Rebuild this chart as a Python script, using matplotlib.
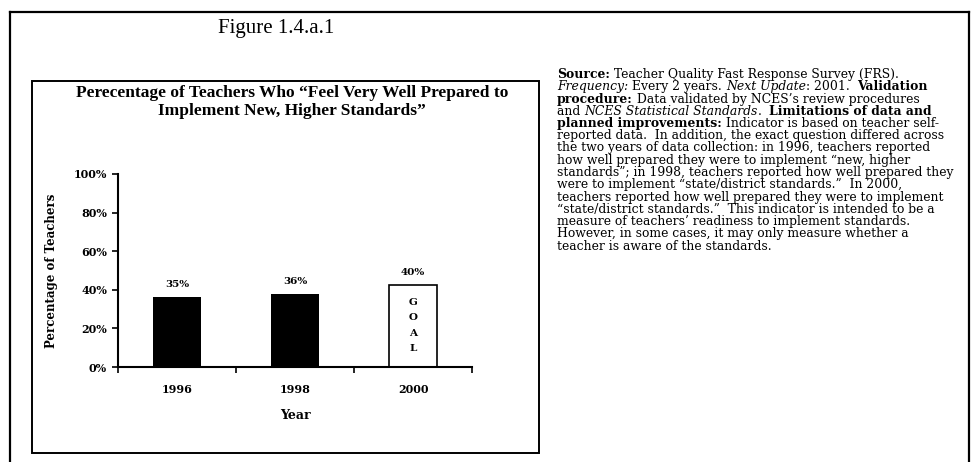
import matplotlib.pyplot as plt
from matplotlib.lines import Line2D
from matplotlib.patches import Rectangle

W, H = 972, 462

years = ["1996", "1998", "2000"]
bar_heights = [36.3, 38.0, 42.5]
bar_labels = ["35%", "36%", "40%"]
is_goal = [False, False, True]
yticks = [0, 20, 40, 60, 80, 100]
ytick_labels = ["0%", "20%", "40%", "60%", "80%", "100%"]

title = "Perecentage of Teachers Who \u201cFeel Very Well Prepared to\nImplement New, Higher Standards\u201d"

# note lines: list of (style, text) segments; b=bold, i=italic, n=normal
note_lines = [
    [("b", "Source:"), ("n", " Teacher Quality Fast Response Survey (FRS).")],
    [("i", "Frequency:"), ("n", " Every 2 years. "), ("i", "Next Update"), ("n", ": 2001.  "), ("b", "Validation")],
    [("b", "procedure:"), ("n", " Data validated by NCES\u2019s review procedures")],
    [("n", "and "), ("i", "NCES Statistical Standards"), ("n", ".  "), ("b", "Limitations of data and")],
    [("b", "planned improvements:"), ("n", " Indicator is based on teacher self-")],
    [("n", "reported data.  In addition, the exact question differed across")],
    [("n", "the two years of data collection: in 1996, teachers reported")],
    [("n", "how well prepared they were to implement \u201cnew, higher")],
    [("n", "standards\u201d; in 1998, teachers reported how well prepared they")],
    [("n", "were to implement \u201cstate/district standards.\u201d  In 2000,")],
    [("n", "teachers reported how well prepared they were to implement")],
    [("n", "\u201cstate/district standards.\u201d  This indicator is intended to be a")],
    [("n", "measure of teachers\u2019 readiness to implement standards.")],
    [("n", "However, in some cases, it may only measure whether a")],
    [("n", "teacher is aware of the standards.")],
]


def fx(x):
    return x / W


def fy(y):
    return 1 - y / H


serif = "Liberation Serif"
wide = "DejaVu Serif"
fig = plt.figure(figsize=(W / 100, H / 100), dpi=100)

# outer frame and chart frame
fig.add_artist(Line2D([fx(10), fx(969)], [fy(12), fy(12)], color="black", lw=1.6))
fig.add_artist(Line2D([fx(10), fx(10)], [fy(12), fy(462)], color="black", lw=1.6))
fig.add_artist(Line2D([fx(969), fx(969)], [fy(12), fy(462)], color="black", lw=1.6))
fig.add_artist(Rectangle((fx(32), fy(453)), fx(539) - fx(32), fy(81) - fy(453),
                         fill=False, ec="black", lw=1.4, transform=fig.transFigure))

fig.text(fx(276), fy(29), "Figure 1.4.a.1", family=serif, fontsize=15,
         ha="center", va="center")

ax = fig.add_axes([fx(118), fy(367), fx(472) - fx(118), fy(174) - fy(367)])
x = range(len(years))
for i in x:
    if is_goal[i]:
        ax.bar(i, bar_heights[i], width=0.4, color="white", edgecolor="black", lw=1.2)
        for k, ch in enumerate("GOAL"):
            ax.text(i, bar_heights[i] - 9 - k * 8, ch, ha="center", va="center",
                    family=wide, fontweight="bold", fontsize=7.5)
    else:
        ax.bar(i, bar_heights[i], width=0.4, color="black")
    ax.text(i, bar_heights[i] + 4, bar_labels[i], ha="center", va="bottom",
            family=wide, fontweight="bold", fontsize=7.5)

ax.set_xlim(-0.5, 2.5)
ax.set_ylim(0, 100)
ax.set_yticks(yticks)
ax.set_yticklabels(ytick_labels, family=wide, fontweight="bold", fontsize=8)
ax.set_xticks(list(x))
ax.set_xticklabels(years, family=wide, fontweight="bold", fontsize=8)
ax.set_xticks([-0.5, 0.5, 1.5, 2.5], minor=True)
ax.tick_params(axis="x", which="major", length=0, pad=12)
ax.tick_params(axis="x", which="minor", length=4, width=1.2, direction="out")
ax.tick_params(axis="y", length=4, width=1.2, pad=4)
for s in ["top", "right"]:
    ax.spines[s].set_visible(False)
for s in ["left", "bottom"]:
    ax.spines[s].set_linewidth(1.5)
ax.set_xlabel("Year", family=wide, fontweight="bold", fontsize=9, labelpad=10)
ax.set_ylabel("Percentage of Teachers", family=wide, fontweight="bold", fontsize=8.5, labelpad=11)

fig.text(fx(292), fy(102), title, family=serif, fontweight="bold", fontsize=12.5,
         ha="center", va="center", linespacing=1.15)

# note block on the right
styles = {"b": dict(fontweight="bold"), "i": dict(style="italic"), "n": {}}
note_x, note_y0, note_dy = 557, 81, 12.25
for j, line in enumerate(note_lines):
    prev = None
    for st, seg in line:
        kw = dict(family=wide, fontsize=8.9, ha="left", va="bottom", **styles[st])
        if prev is None:
            prev = fig.text(fx(note_x), fy(note_y0 + j * note_dy), seg, **kw)
        else:
            prev = ax.annotate(seg, xy=(1, 0), xycoords=prev, annotation_clip=False, **kw)

fig.savefig("out.png", dpi=100)
